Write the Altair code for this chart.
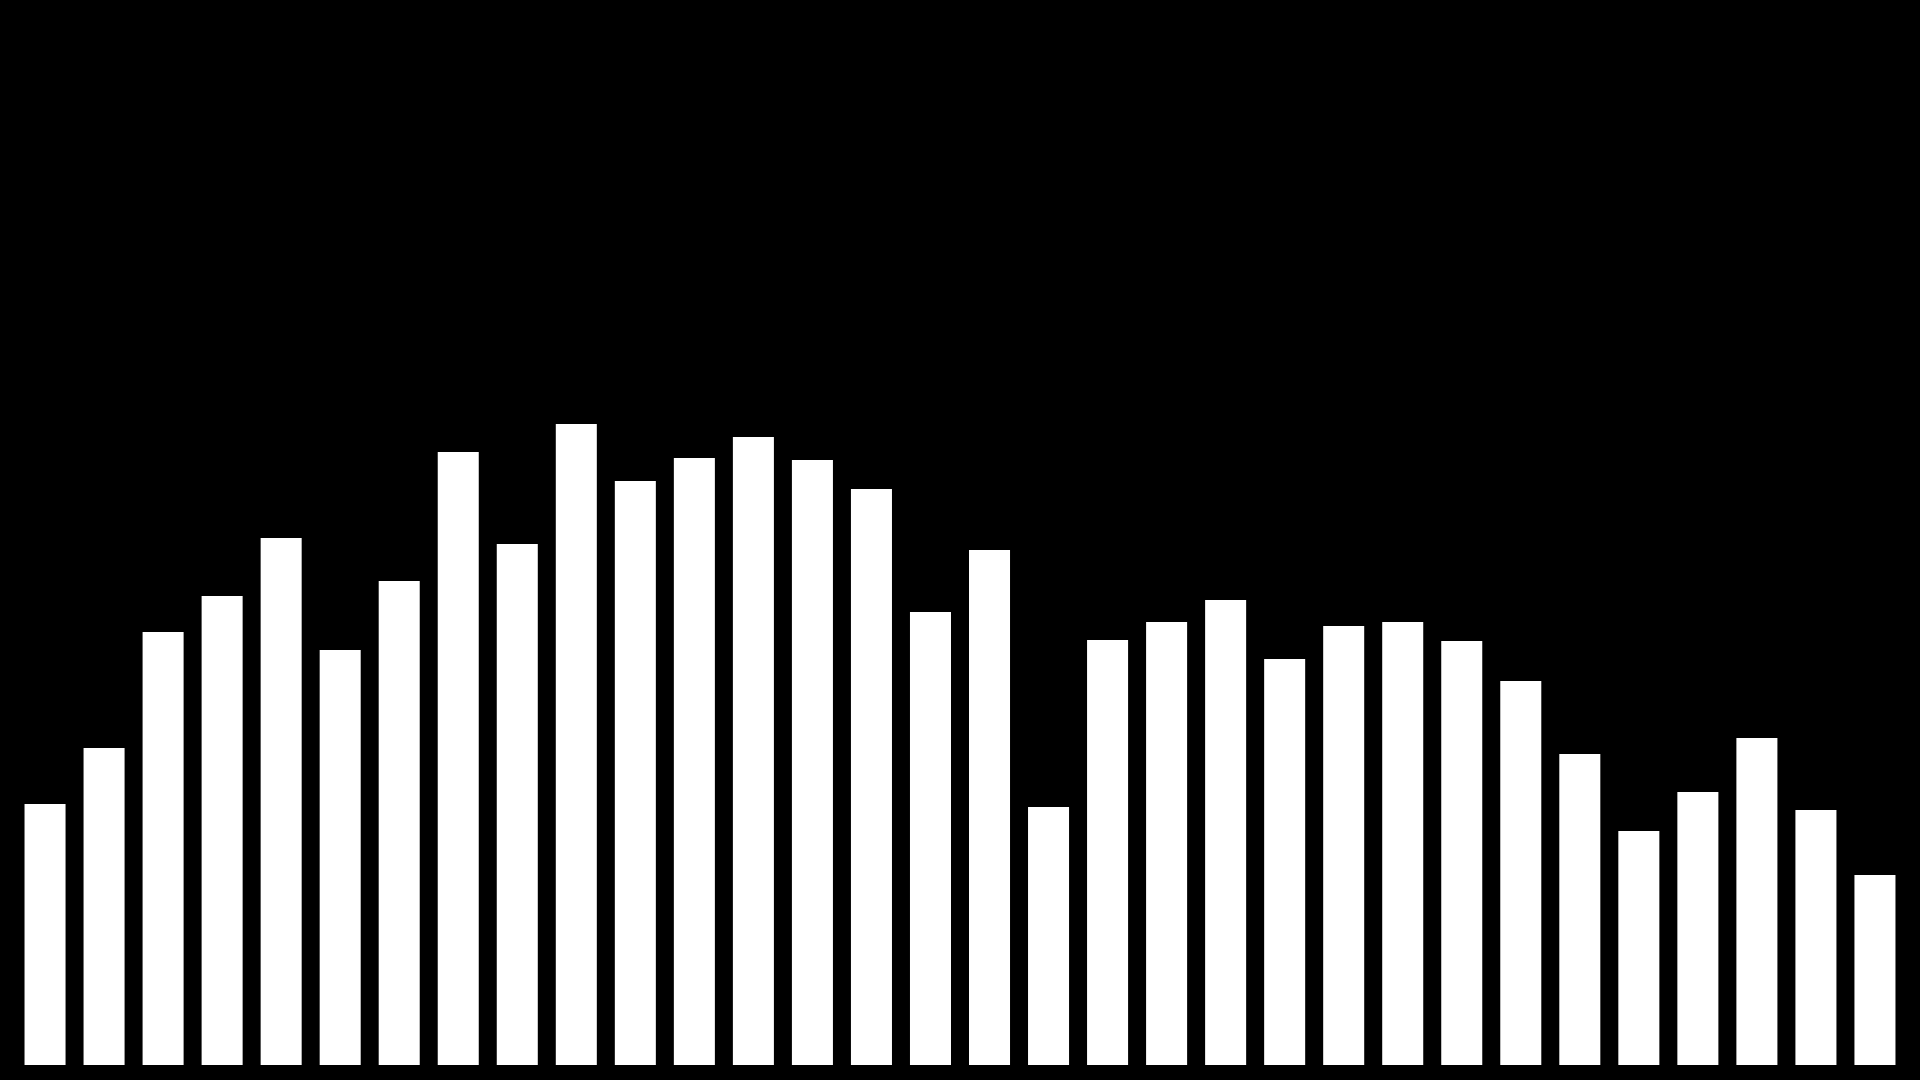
import altair as alt
import pandas as pd
import jinja2

categories = [f"{i:02d}" for i in range(1, 33)]
values = [261, 317, 433, 469, 527, 415, 484, 613, 521, 641, 584, 607, 628, 605, 576, 453,
          515, 258, 425, 443, 465, 406, 439, 443, 424, 384, 311, 234, 273, 327, 255, 190]

df = pd.DataFrame({"cat": categories, "val": values})

PAGE_TEMPLATE = jinja2.Template("""<!DOCTYPE html>
<html>
<head>
  <meta charset="utf-8">
  <style>
    html, body { background: #000000; }
    #{{ output_div }}.vega-embed { width: 100%; display: flex; }
  </style>
  <script type="text/javascript" src="{{ base_url }}/vega@{{ vega_version }}"></script>
  <script type="text/javascript" src="{{ base_url }}/vega-lite@{{ vegalite_version }}"></script>
  <script type="text/javascript" src="{{ base_url }}/vega-embed@{{ vegaembed_version }}"></script>
</head>
<body>
  <div id="{{ output_div }}"></div>
  <script type="text/javascript">
    (function(vegaEmbed) {
      var spec = {{ spec }};
      var embedOpt = {{ embed_options }};
      function showError(el, error){
        el.innerHTML = ('<div style="color:red;"><p>JavaScript Error: ' + error.message + '</p></div>');
        throw error;
      }
      const el = document.getElementById('{{ output_div }}');
      vegaEmbed("#{{ output_div }}", spec, embedOpt).catch(error => showError(el, error));
    })(vegaEmbed);
  </script>
</body>
</html>
""")

chart = (
    alt.Chart(df)
    .mark_bar(color="white")
    .encode(
        x=alt.X("cat:N", sort=None, axis=None,
                scale=alt.Scale(paddingInner=0.305, paddingOuter=0.28)),
        y=alt.Y("val:Q", axis=None, scale=alt.Scale(domain=[0, 1057], nice=False, zero=True)),
    )
    .properties(width=1904, height=1057, background="black", padding=0,
                autosize=alt.AutoSizeParams(type="none"))
    .configure_view(stroke=None, fill="black")
)

chart.save("out.html", embed_options={"renderer": "svg", "actions": False}, template=PAGE_TEMPLATE)
